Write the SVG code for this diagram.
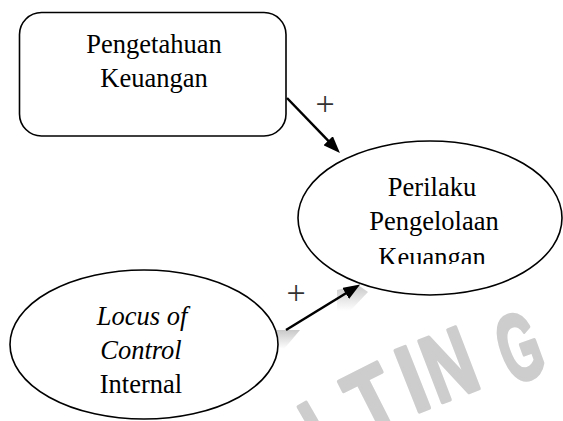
<svg xmlns="http://www.w3.org/2000/svg" width="563" height="421" viewBox="0 0 563 421">
  <style>
    .lbl { font-family: "Liberation Serif", "Times New Roman", serif; font-size: 26.5px; fill: #000; text-anchor: middle; }
    .it { font-style: italic; }
    .plus { font-family: "Liberation Serif", "Times New Roman", serif; font-size: 34px; fill: #333; text-anchor: middle; }
    .node { fill: #fff; stroke: #000; stroke-width: 1.6; }
    .edge { stroke: #000; stroke-width: 2.5; fill: none; marker-end: url(#arrow); }
    .wm { font-family: "Liberation Sans", Arial, sans-serif; font-weight: bold; font-size: 95px; fill: #cdcdcd; stroke: #cdcdcd; stroke-width: 4; stroke-linejoin: round; }
  </style>
  <defs>
    <marker id="arrow" markerUnits="userSpaceOnUse" markerWidth="17" markerHeight="13" refX="9" refY="6.5" orient="auto">
      <path d="M0,0 L17,6.5 L0,13 z" fill="#000"/>
    </marker>
    <clipPath id="clipK">
      <rect x="290" y="100" width="273" height="164"/>
    </clipPath>
    <linearGradient id="fadeA" x1="0" y1="0" x2="0" y2="1">
      <stop offset="0" stop-color="#c8c8c8"/>
      <stop offset="1" stop-color="#ffffff"/>
    </linearGradient>
  </defs>
  <rect width="563" height="421" fill="#fff"/>

  <g id="watermark">
    <text class="wm" transform="translate(327,466) rotate(-30) scale(0.7,1)">L</text>
    <text class="wm" transform="translate(367.6,440.6) rotate(-27) scale(0.775,1)">T</text>
    <text class="wm" transform="translate(414.4,413.4) rotate(-21.6) scale(0.8,1)">I</text>
    <text class="wm" transform="translate(438,404) rotate(-21) scale(0.71,1)">N</text>
    <text class="wm" transform="translate(511.5,385) rotate(-20) scale(0.55,1)">G</text>
    <text class="wm" transform="translate(578,375) rotate(-18) scale(0.55,1)">G</text>
    <polygon points="337,290 358,285 368,292 350,311 337,311" fill="url(#fadeA)"/>
    <polygon points="277,330 300,330 284,349 276,346" fill="url(#fadeA)"/>
  </g>

  <g id="connectors">
    <line class="edge" x1="287" y1="98" x2="334.4" y2="147.2"/>
    <line class="edge" x1="286" y1="330" x2="353.3" y2="288.7"/>
    <text class="plus" x="325" y="115">+</text>
    <text class="plus" x="296" y="304">+</text>
  </g>

  <g id="node-pengetahuan">
    <rect class="node" x="19.5" y="12.5" width="266.5" height="123.5" rx="22" ry="22"/>
    <text class="lbl" x="154" y="53">Pengetahuan</text>
    <text class="lbl" x="154" y="87">Keuangan</text>
  </g>

  <g id="node-perilaku">
    <ellipse class="node" cx="430" cy="218" rx="132" ry="77"/>
    <text class="lbl" x="432" y="196">Perilaku</text>
    <text class="lbl" x="434" y="230">Pengelolaan</text>
    <text class="lbl" x="432" y="265.5" clip-path="url(#clipK)">Keuangan</text>
  </g>

  <g id="node-locus">
    <ellipse class="node" cx="144" cy="344.5" rx="134" ry="74.5"/>
    <text class="lbl it" x="142" y="325">Locus of</text>
    <text class="lbl" x="141" y="359"><tspan class="it">Control</tspan></text>
    <text class="lbl" x="141" y="393">Internal</text>
  </g>
</svg>
